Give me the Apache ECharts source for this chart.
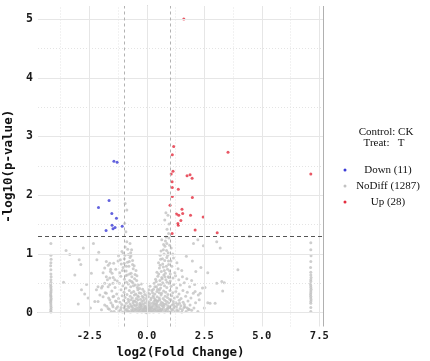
<!DOCTYPE html>
<html><head><meta charset="utf-8">
<script src="https://cdn.jsdelivr.net/npm/echarts@6/dist/echarts.min.js"></script>
<style>html,body{margin:0;padding:0;background:#fff}#c{width:430px;height:361px}</style>
</head><body><div id="c"></div>
<script>
const xTicks = [-2.5, 0, 2.5, 5, 7.5];
const yTicks = [0, 1, 2, 3, 4, 5];
const xMinor = [-3.75, -1.25, 1.25, 3.75, 6.25];
const yMinor = [0.5, 1.5, 2.5, 3.5, 4.5];
const fcCut = [-1, 1];
const pCut = 1.301;
const xTitle = 'log2(Fold Change)';
const yTitle = '-log10(p-value)';
const infoLines = ['Control: CK', 'Treat:   T'];
const legendLabels = ['Down (11)', 'NoDiff (1287)', 'Up (28)'];

const downPts = [[-1.43,2.58],[-1.29,2.56],[-1.64,1.91],[-2.10,1.79],[-1.52,1.69],[-1.32,1.61],[-1.51,1.49],[-1.38,1.45],[-1.47,1.43],[-1.77,1.40],[-1.07,1.47]];

const upPts = [[1.61,5.00],[1.17,2.83],[1.11,2.69],[3.53,2.73],[1.14,2.41],[1.06,2.36],[1.75,2.33],[1.88,2.35],[1.97,2.29],[1.10,2.23],[1.37,2.10],[1.11,2.13],[1.98,1.96],[1.11,1.98],[1.01,1.83],[1.53,1.76],[1.29,1.68],[1.39,1.66],[1.56,1.69],[1.90,1.66],[2.45,1.63],[1.48,1.57],[1.35,1.52],[1.37,1.49],[2.10,1.41],[1.10,1.35],[3.06,1.36],[7.13,2.36]];

const noDiffPts = [
[-4.17,1.18],[-4.17,0.98],[-4.16,0.91],[-4.17,0.85],[-4.18,0.80],[-4.17,0.73],[-4.17,0.66],[-4.16,0.61],[-4.17,0.56],[-4.17,0.52],[-4.18,0.48],[-4.17,0.45],[-4.17,0.42],[-4.16,0.39],[-4.17,0.36],[-4.17,0.34],[-4.18,0.31],[-4.17,0.29],[-4.17,0.27],[-4.16,0.24],[-4.17,0.22],[-4.17,0.20],[-4.18,0.18],[-4.17,0.15],[-4.17,0.12],[-4.16,0.09],[-4.17,0.06],[-4.17,0.03],[-4.17,0.01],
[7.13,1.19],[7.13,1.07],[7.14,0.97],[7.13,0.87],[7.12,0.77],[7.13,0.69],[7.13,0.64],[7.14,0.60],[7.13,0.56],[7.13,0.53],[7.12,0.49],[7.13,0.46],[7.13,0.43],[7.14,0.40],[7.13,0.37],[7.13,0.34],[7.12,0.31],[7.13,0.28],[7.13,0.25],[7.14,0.22],[7.13,0.19],[7.13,0.16],[7.13,0.09],[7.13,0.02],
[-3.51,1.06],[-3.35,0.99],[-2.94,0.90],[-2.87,0.82],[-3.13,0.64],[-2.84,0.39],[-2.41,0.67],[-2.32,1.18],[-2.09,1.03],[-2.55,0.25],[-2.76,1.10],[-2.17,0.90],[-3.62,0.52],[-2.62,0.48],[-2.98,0.15],[-2.45,0.08],[-2.70,0.32],
[-1.76,0.87],[-1.68,0.81],[-1.61,0.84],[-1.83,0.76],[-1.57,0.74],[-1.90,0.68],[-1.76,0.61],[-1.61,0.59],[-1.51,0.67],[-2.12,0.44],[-2.19,0.39],[-1.97,0.42],[-1.83,0.50],[-1.68,0.44],[-1.47,0.50],[-1.39,0.56],[-2.04,0.30],[-1.90,0.27],[-1.76,0.33],[-1.61,0.22],[-1.47,0.27],[-2.12,0.19],[-2.26,0.19],[-1.83,0.13],[-1.68,0.07],[-1.47,0.10],[-1.32,0.19],[-1.97,0.05],[-1.54,0.02],
[-1.42,0.02],[-1.21,0.03],[-1.05,0.01],[-0.93,0.04],[-0.84,0.02],[-0.71,0.01],[-0.62,0.03],[-0.55,0.02],[-0.47,0.04],[-0.41,0.01],[-0.33,0.02],[-0.28,0.04],[-0.22,0.01],[-0.17,0.03],[-0.11,0.02],[-0.06,0.01],[-0.02,0.03],[0.03,0.02],[0.08,0.04],[0.12,0.01],[0.18,0.03],[0.23,0.02],[0.29,0.01],[0.34,0.04],[0.41,0.02],[0.47,0.03],[0.53,0.01],[0.61,0.02],[0.68,0.04],[0.77,0.01],[0.85,0.03],[0.94,0.02],[1.03,0.01],[1.12,0.04],[1.24,0.02],[1.37,0.03],[1.52,0.01],[1.71,0.02],[1.95,0.04],[2.22,0.02],
[-1.63,0.06],[-1.33,0.07],[-1.14,0.05],[-0.98,0.08],[-0.87,0.06],[-0.77,0.09],[-0.66,0.05],[-0.58,0.07],[-0.51,0.06],[-0.44,0.08],[-0.37,0.05],[-0.31,0.07],[-0.25,0.09],[-0.19,0.06],[-0.14,0.05],[-0.08,0.08],[-0.04,0.06],[0.01,0.07],[0.06,0.05],[0.10,0.09],[0.15,0.06],[0.21,0.08],[0.26,0.05],[0.32,0.07],[0.38,0.06],[0.44,0.09],[0.50,0.05],[0.57,0.07],[0.64,0.06],[0.72,0.08],[0.81,0.05],[0.89,0.07],[0.98,0.09],[1.08,0.06],[1.18,0.08],[1.31,0.05],[1.45,0.07],[1.62,0.09],[1.84,0.06],[2.05,0.08],
[-1.74,0.11],[-1.49,0.13],[-1.27,0.10],[-1.09,0.14],[-0.96,0.12],[-0.82,0.11],[-0.73,0.15],[-0.64,0.10],[-0.56,0.13],[-0.49,0.12],[-0.42,0.14],[-0.35,0.10],[-0.29,0.13],[-0.23,0.11],[-0.16,0.15],[-0.10,0.12],[-0.05,0.10],[0.04,0.13],[0.09,0.11],[0.14,0.14],[0.20,0.10],[0.27,0.12],[0.33,0.15],[0.39,0.11],[0.46,0.13],[0.52,0.10],[0.59,0.14],[0.66,0.12],[0.74,0.11],[0.83,0.15],[0.91,0.12],[1.00,0.10],[1.10,0.13],[1.21,0.11],[1.34,0.14],[1.48,0.12],[1.66,0.10],[1.88,0.13],
[-1.56,0.17],[-1.36,0.20],[-1.17,0.18],[-1.01,0.21],[-0.89,0.16],[-0.79,0.19],[-0.69,0.22],[-0.60,0.17],[-0.52,0.20],[-0.45,0.18],[-0.38,0.22],[-0.30,0.16],[-0.21,0.19],[-0.13,0.21],[-0.07,0.17],[0.02,0.20],[0.11,0.18],[0.17,0.22],[0.24,0.16],[0.31,0.19],[0.37,0.21],[0.43,0.17],[0.49,0.20],[0.56,0.22],[0.63,0.18],[0.70,0.16],[0.78,0.21],[0.86,0.19],[0.95,0.17],[1.05,0.22],[1.15,0.19],[1.27,0.17],[1.41,0.21],[1.58,0.18],[1.79,0.20],[2.12,0.17],
[-1.66,0.25],[-1.44,0.28],[-1.23,0.24],[-1.07,0.29],[-0.94,0.26],[-0.81,0.23],[-0.72,0.28],[-0.63,0.25],[-0.54,0.30],[-0.46,0.24],[-0.36,0.27],[-0.27,0.23],[-0.15,0.26],[-0.03,0.24],[0.07,0.27],[0.19,0.25],[0.28,0.29],[0.36,0.23],[0.45,0.27],[0.54,0.25],[0.62,0.30],[0.71,0.24],[0.80,0.28],[0.90,0.26],[0.99,0.23],[1.09,0.29],[1.20,0.25],[1.33,0.27],[1.49,0.24],[1.69,0.28],[1.92,0.25],
[-1.81,0.34],[-1.52,0.37],[-1.31,0.32],[-1.12,0.39],[-0.99,0.35],[-0.86,0.31],[-0.76,0.38],[-0.67,0.34],[-0.57,0.36],[-0.48,0.32],[-0.39,0.39],[-0.26,0.33],[-0.12,0.36],[0.05,0.34],[0.22,0.38],[0.35,0.32],[0.44,0.36],[0.55,0.39],[0.64,0.33],[0.73,0.37],[0.82,0.35],[0.92,0.31],[1.01,0.38],[1.13,0.34],[1.26,0.36],[1.40,0.32],[1.57,0.38],[1.76,0.35],[2.02,0.33],
[-1.93,0.45],[-1.61,0.48],[-1.38,0.43],[-1.19,0.50],[-1.04,0.46],[-0.91,0.42],[-0.80,0.49],[-0.70,0.44],[-0.61,0.51],[-0.50,0.47],[-0.41,0.43],[-0.24,0.49],[0.14,0.45],[0.32,0.50],[0.42,0.44],[0.51,0.48],[0.60,0.42],[0.69,0.51],[0.77,0.46],[0.87,0.43],[0.96,0.50],[1.06,0.45],[1.17,0.48],[1.30,0.42],[1.46,0.47],[1.63,0.51],[1.86,0.44],
[-1.71,0.56],[-1.46,0.60],[-1.28,0.54],[-1.13,0.62],[-0.97,0.57],[-0.85,0.64],[-0.74,0.55],[-0.65,0.61],[-0.53,0.58],[-0.43,0.63],[0.38,0.57],[0.48,0.62],[0.57,0.55],[0.65,0.60],[0.74,0.64],[0.83,0.56],[0.93,0.61],[1.02,0.54],[1.14,0.59],[1.25,0.63],[1.39,0.56],[1.55,0.61],[1.74,0.58],
[-1.58,0.70],[-1.35,0.74],[-1.18,0.68],[-1.03,0.77],[-0.90,0.71],[-0.78,0.79],[-0.68,0.67],[-0.59,0.75],[-0.47,0.72],[0.44,0.69],[0.55,0.76],[0.63,0.70],[0.72,0.78],[0.81,0.67],[0.90,0.74],[0.99,0.71],[1.09,0.79],[1.22,0.68],[1.36,0.75],[1.52,0.72],
[-1.44,0.84],[-1.25,0.88],[-1.11,0.83],[-0.98,0.92],[-0.84,0.86],[-0.73,0.94],[-0.62,0.82],[0.51,0.85],[0.60,0.91],[0.69,0.83],[0.78,0.89],[0.87,0.94],[0.95,0.82],[1.05,0.88],[1.16,0.93],[1.31,0.85],
[-1.23,0.97],[-1.08,1.04],[-0.94,1.12],[-0.87,1.21],[-0.73,1.18],[-1.02,1.01],[-0.80,0.99],[-0.66,1.07],[0.58,0.98],[0.72,1.07],[0.87,1.18],[0.79,1.13],[0.93,1.02],[0.65,1.24],[0.96,1.27],[1.06,1.10],[1.13,1.00],[0.84,1.29],
[-0.88,0.52],[-0.75,0.66],[-0.62,0.89],[-0.95,0.98],[-0.83,1.08],[-0.69,0.97],[-0.55,0.80],[-0.51,0.65],[-0.44,0.55],[-0.36,0.47],[-0.31,0.41],[-0.58,0.46],[-0.66,0.53],[-0.92,0.63],[-1.06,0.72],[-0.76,0.87],[-0.89,0.79],[-1.15,0.90],[-0.98,0.84],[-0.70,1.02],
[0.35,0.44],[0.41,0.53],[0.47,0.40],[0.52,0.66],[0.58,0.81],[0.62,0.48],[0.68,0.92],[0.75,1.00],[0.81,1.22],[0.67,0.58],[0.76,0.72],[0.85,0.79],[0.91,0.98],[0.99,1.15],[0.73,1.16],[0.94,0.88],[1.02,0.66],[0.88,0.52],[0.96,0.60],[0.54,0.34],[0.29,0.40],[0.62,1.05],[0.79,0.61],[0.86,1.06],
[-0.20,0.28],[-0.09,0.31],[0.00,0.29],[0.12,0.32],[0.25,0.34],[-0.33,0.34],[-0.18,0.40],[0.09,0.39],[0.30,0.26],[-0.40,0.29],[-0.58,0.20],[-0.26,0.14],[0.13,0.07],[0.38,0.15],[0.58,0.04],[0.75,0.14],[0.92,0.07],[1.16,0.15],[1.29,0.10],[1.42,0.16],[1.55,0.05],[1.63,0.14],[1.76,0.08],[-1.12,0.09],[-0.79,0.03],[-0.68,0.12],[0.00,0.00],[0.05,0.16],[-0.12,0.08],[0.45,0.20],
[2.03,1.18],[2.22,1.24],[2.46,1.14],[3.04,1.21],[3.19,1.10],[4.46,1.30],[3.96,0.73],[2.65,0.68],[2.35,0.77],[2.13,0.70],[3.26,0.53],[3.37,0.51],[3.04,0.50],[3.30,0.37],[2.53,0.43],[2.42,0.42],[2.32,0.33],[2.24,0.30],[2.65,0.17],[2.75,0.16],[2.97,0.16],[1.81,0.05],[2.10,0.36],[1.95,0.55],[2.08,0.48],[2.28,0.22],[2.50,0.08],[1.98,0.88],[1.72,0.96],
[0.95,1.35],[0.88,1.42],[0.78,1.58],[0.83,1.70],[0.92,1.66],[0.97,1.51],[-0.94,1.86],[-0.87,1.75],[-0.96,1.52],[-0.91,1.38]
];

const xMin = -4.73, xMax = 7.66, yMin = -0.235, yMax = 5.222;
const mono = 'DejaVu Sans Mono';
const serif = 'Liberation Serif';
const colDown = '#3b3bd6', colNo = '#c2c2c2', colUp = '#e42d3f';

const chart = echarts.init(document.getElementById('c'), null, {renderer: 'canvas'});

const gridLines = [];
xTicks.forEach(v => gridLines.push({xAxis: v, lineStyle: {color: '#e6e6e6', width: 1, type: 'solid'}}));
yTicks.forEach(v => gridLines.push({yAxis: v, lineStyle: {color: '#e6e6e6', width: 1, type: 'solid'}}));
xMinor.forEach(v => gridLines.push({xAxis: v, lineStyle: {color: '#e4e4e4', width: 1, type: [1, 2]}}));
yMinor.forEach(v => gridLines.push({yAxis: v, lineStyle: {color: '#e4e4e4', width: 1, type: [1, 2]}}));
gridLines.push({xAxis: xMax, lineStyle: {color: '#b0b0b0', width: 1, type: 'solid'}});

const cutLines = [];
fcCut.forEach(v => cutLines.push({xAxis: v, lineStyle: {color: '#b2b2b2', width: 1, type: [3, 3]}}));
cutLines.push({yAxis: pCut, lineStyle: {color: '#555555', width: 1, type: [4, 3]}});

const ml = (data) => ({silent: true, symbol: ['none', 'none'], label: {show: false}, animation: false, emphasis: {disabled: true}, data: data});

const legendY = [170, 186, 202];
const legendCols = [colDown, colNo, colUp];
const graphics = [
  {type: 'text', x: 386, y: 132, style: {text: infoLines[0], font: '11px "' + serif + '"', fill: '#111', align: 'center', verticalAlign: 'middle'}},
  {type: 'text', x: 384, y: 143, style: {text: infoLines[1], font: '11px "' + serif + '"', fill: '#111', align: 'center', verticalAlign: 'middle'}}
];
legendLabels.forEach((t, i) => {
  graphics.push({type: 'circle', x: 345, y: legendY[i], shape: {cx: 0, cy: 0, r: 1.5}, style: {fill: legendCols[i]}});
  graphics.push({type: 'text', x: 388, y: legendY[i], style: {text: t, font: '11px "' + serif + '"', fill: '#111', align: 'center', verticalAlign: 'middle'}});
});

chart.setOption({
  animation: false,
  backgroundColor: '#ffffff',
  grid: {left: 38, right: 107, top: 6, bottom: 34.5, containLabel: false, outerBoundsMode: 'none'},
  xAxis: {
    type: 'value', min: xMin, max: xMax,
    name: xTitle, nameLocation: 'middle', nameGap: 17,
    nameTextStyle: {fontFamily: mono, fontWeight: 'bold', fontSize: 12.5, color: '#111'},
    axisLine: {show: true, lineStyle: {color: '#a8a8a8', width: 1}},
    axisTick: {show: true, length: 2, customValues: xTicks, lineStyle: {color: '#a8a8a8'}},
    axisLabel: {customValues: xTicks, formatter: v => Number(v).toFixed(1), fontFamily: mono, fontWeight: 'bold', fontSize: 10.5, color: '#1a1a1a', margin: 4},
    splitLine: {show: false}
  },
  yAxis: {
    type: 'value', min: yMin, max: yMax,
    name: yTitle, nameLocation: 'middle', nameGap: 19, nameRotate: 90,
    nameTextStyle: {fontFamily: mono, fontWeight: 'bold', fontSize: 12.5, color: '#111'},
    axisLine: {show: true, lineStyle: {color: '#a8a8a8', width: 1}},
    axisTick: {show: true, length: 2, customValues: yTicks, lineStyle: {color: '#a8a8a8'}},
    axisLabel: {customValues: yTicks, formatter: v => String(Math.round(v)), fontFamily: mono, fontWeight: 'bold', fontSize: 11.5, color: '#1a1a1a', margin: 5},
    splitLine: {show: false}
  },
  series: [
    {type: 'scatter', data: [], z: 1, silent: true, markLine: ml(gridLines)},
    {type: 'scatter', name: 'NoDiff', data: noDiffPts, z: 2, symbolSize: 3, silent: true, itemStyle: {color: colNo}},
    {type: 'scatter', name: 'Down', data: downPts, z: 3, symbolSize: 3, silent: true, itemStyle: {color: colDown}},
    {type: 'scatter', name: 'Up', data: upPts, z: 3, symbolSize: 3, silent: true, itemStyle: {color: colUp}},
    {type: 'scatter', data: [], z: 4, silent: true, markLine: ml(cutLines)}
  ],
  graphic: graphics
});
</script></body></html>
